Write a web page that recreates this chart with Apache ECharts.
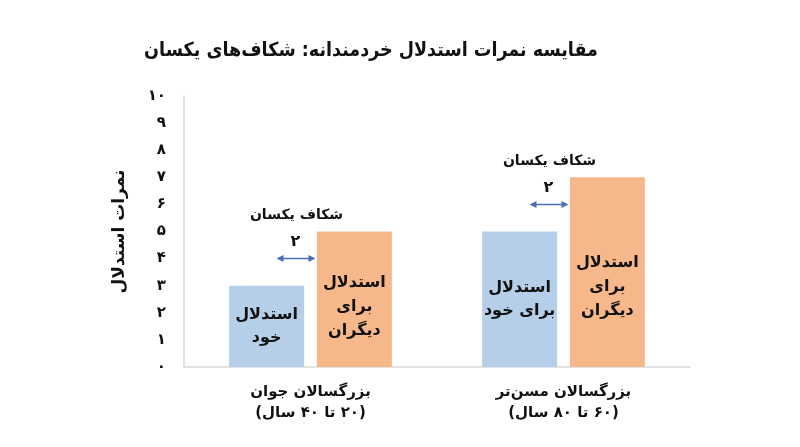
<!DOCTYPE html>
<html>
<head>
<meta charset="utf-8">
<script src="https://cdn.jsdelivr.net/npm/echarts@6/dist/echarts.min.js"></script>
<style>
html,body{margin:0;padding:0;background:#fff;}
#chart{width:800px;height:447px;}
</style>
</head>
<body>
<div id="chart" dir="rtl"></div>
<script>
const titleText = 'مقایسه نمرات استدلال خردمندانه: شکاف‌های یکسان';
const yAxisName = 'نمرات استدلال';
const categories = ['بزرگسالان جوان\n(۲۰ تا ۴۰ سال)', 'بزرگسالان مسن‌تر\n(۶۰ تا ۸۰ سال)'];
const selfScores = [3, 5];
const otherScores = [5, 7];
const selfLabels = ['استدلال\nخود', 'استدلال\nبرای خود'];
const otherLabels = ['استدلال\nبرای\nدیگران', 'استدلال\nبرای\nدیگران'];
const gapText = 'شکاف یکسان';
const yTicks = [0, 10, 1];

const FONT = "'DejaVu Sans', 'Noto Sans', sans-serif";
const TFONT = "'DejaVu Sans Condensed', 'DejaVu Sans', sans-serif";
const fa = n => String(n).replace(/\d/g, d => '۰۱۲۳۴۵۶۷۸۹'[d]);
const ARROW = '#4a6fb5';

const chart = echarts.init(document.getElementById('chart'));
const option = {
  backgroundColor: '#fff',
  animation: false,
  title: {
    text: titleText,
    left: 366, top: 36,
    textAlign: 'center',
    textStyle: { fontFamily: TFONT, fontSize: 19.5, fontWeight: 'bold', color: '#111' }
  },
  grid: { left: 184, right: 110, top: 96, bottom: 80 },
  xAxis: {
    type: 'category',
    data: categories,
    axisLine: { lineStyle: { color: '#d9d9d9', width: 1.5 } },
    axisTick: { show: false },
    axisLabel: { fontFamily: FONT, fontSize: 15, fontWeight: 'bold', color: '#111', lineHeight: 21, margin: 15 }
  },
  yAxis: {
    type: 'value',
    min: yTicks[0], max: yTicks[1], interval: yTicks[2],
    name: yAxisName,
    nameLocation: 'middle',
    nameGap: 56,
    nameRotate: 90,
    nameTextStyle: { fontFamily: FONT, fontSize: 17, fontWeight: 'bold', color: '#111' },
    axisLine: { show: true, lineStyle: { color: '#d9d9d9', width: 1.5 } },
    axisTick: { show: false },
    splitLine: { show: false },
    axisLabel: { formatter: v => fa(v), fontFamily: FONT, fontSize: 15, fontWeight: 'bold', color: '#111', margin: 18 }
  },
  series: [
    {
      type: 'bar',
      barWidth: 75,
      barGap: '17%',
      itemStyle: { color: '#b6cfe9' },
      data: selfScores.map((v, i) => ({ value: v, label: { formatter: selfLabels[i] } })),
      label: { show: true, position: 'inside', fontFamily: FONT, fontSize: 16, fontWeight: 'bold', color: '#111', lineHeight: 23 }
    },
    {
      type: 'bar',
      barWidth: 75,
      itemStyle: { color: '#f6b88b' },
      data: otherScores.map((v, i) => ({ value: v, label: { formatter: otherLabels[i], offset: [0, i === 0 ? 8 : 15] } })),
      label: { show: true, position: 'inside', fontFamily: FONT, fontSize: 16, fontWeight: 'bold', color: '#111', lineHeight: 24 }
    },
    {
      type: 'custom',
      silent: true,
      data: selfScores.map((s, i) => [i, s, otherScores[i]]),
      renderItem: (params, api) => {
        const cat = api.value(0), lo = api.value(1), hi = api.value(2);
        const p = api.coord([cat, (lo + hi) / 2]);
        const x1 = p[0] - 34, x2 = p[0] + 5, y = p[1];
        const ah = 7, aw = 3.5;
        return {
          type: 'group',
          children: [
            { type: 'line', shape: { x1: x1 + 3, y1: y, x2: x2 - 3, y2: y }, style: { stroke: ARROW, lineWidth: 1.5 } },
            { type: 'polygon', shape: { points: [[x1, y], [x1 + ah, y - aw], [x1 + ah, y + aw]] }, style: { fill: ARROW } },
            { type: 'polygon', shape: { points: [[x2, y], [x2 - ah, y - aw], [x2 - ah, y + aw]] }, style: { fill: ARROW } },
            { type: 'text', x: p[0] - 15, y: y - 17, style: { text: fa(hi - lo), fontFamily: FONT, fontSize: 16, fontWeight: 'bold', fill: '#111', align: 'center', verticalAlign: 'middle' } },
            { type: 'text', x: p[0] - 14, y: y - 43, style: { text: gapText, fontFamily: FONT, fontSize: 14, fontWeight: 'bold', fill: '#111', align: 'center', verticalAlign: 'middle' } }
          ]
        };
      }
    }
  ]
};
chart.setOption(option);
</script>
</body>
</html>
